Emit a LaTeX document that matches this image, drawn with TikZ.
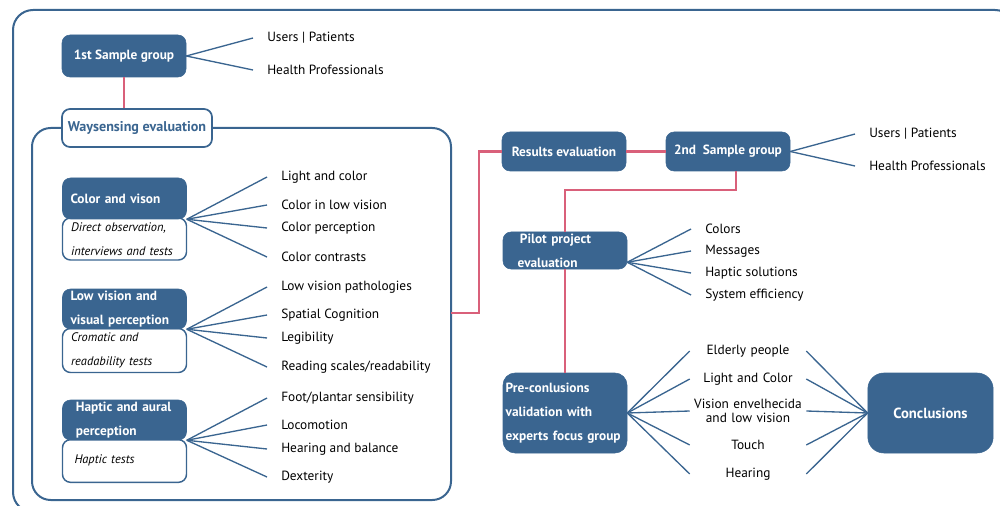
\documentclass[tikz,border=0pt]{standalone}
\usepackage{fontspec}
\setmainfont{PT Sans}
\usepackage{tikz}
\usetikzlibrary{calc}
\definecolor{wsblue}{HTML}{3A6590}
\definecolor{wspink}{HTML}{D9607A}
\tikzset{
    frame/.style={draw=wsblue,line width=1.5pt,rounded corners=15pt},
    darkbox/.style={fill=wsblue,draw=wsblue,rounded corners=6pt,text=white,inner sep=0pt,
        minimum width=93pt,font=\bfseries\fontsize{10}{18}\selectfont},
    lightbox/.style={fill=white,draw=wsblue,line width=1.1pt,rounded corners=6pt,inner sep=0pt,
        minimum width=93pt,font=\itshape\fontsize{9.3}{18}\selectfont},
    item/.style={anchor=west,inner sep=0pt,inner xsep=10.5pt,font=\fontsize{10}{11}\selectfont},
    midtext/.style={inner sep=0pt,text width=87pt,align=center,font=\fontsize{10}{10.5}\selectfont},
    spoke/.style={draw=wsblue,line width=1pt},
    link/.style={draw=wspink,line width=1.6pt}
}
\begin{document}
\begin{tikzpicture}[x=0.75pt,y=-0.75pt]
            \useasboundingbox (0,0) rectangle (1000,506);
            \clip (0,0) rectangle (1000,506);
            % Frames
            \draw[frame] (13,10) rectangle (1015,512);
            \draw[frame,rounded corners=14pt] (32,128) rectangle (451,500);
            \coordinate (frameout) at (451,313);
            % First sample
            \node[darkbox,minimum height=31.5pt,align=center] (sampleA) at (124,56) {1st Sample group};
            \node[item] (usersA) at (253,38) {Users | Patients};
            \node[item] (healthA) at (253,70) {Health Professionals};
            \draw[spoke] (sampleA.east) -- (usersA.west);
            \draw[spoke] (sampleA.east) -- (healthA.west);
            \node[lightbox,line width=1.3pt,minimum width=112.5pt,minimum height=28.5pt,text=wsblue,
                font=\bfseries\fontsize{10.6}{12}\selectfont] (waysensing) at (137,128) {Waysensing evaluation};
            \draw[link] (sampleA.south) -- (sampleA.south |- waysensing.north);
            % Color and vision
            \node[lightbox,minimum height=31.5pt,text width=80pt,align=left] (cvtests) at (124.5,239) {Direct observation,\\interviews and tests};
            \node[darkbox,minimum height=30.75pt,text width=81pt,align=left] (colorvision) at (124.5,198.5) {Color and vison};
            \node[item] (cv1) at (267,177) {Light and color};
            \node[item] (cv2) at (267,205) {Color in low vision};
            \node[item] (cv3) at (267,228) {Color perception};
            \node[item] (cv4) at (267,257) {Color contrasts};
            \foreach \n in {cv1,cv2,cv3,cv4}
                \draw[spoke] (colorvision.south east) -- (\n.west);
            % Low vision
            \node[lightbox,minimum height=33pt,text width=80pt,align=left] (lvtests) at (124.5,350.5) {Cromatic and\\readability tests};
            \node[darkbox,minimum height=30pt,text width=81pt,align=left] (lowvision) at (124.5,309) {Low vision and\\visual perception};
            \node[item] (lv1) at (267,287) {Low vision pathologies};
            \node[item] (lv2) at (267,315) {Spatial Cognition};
            \node[item] (lv3) at (267,338) {Legibility};
            \node[item] (lv4) at (267,367) {Reading scales/readability};
            \foreach \n in {lv1,lv2,lv3,lv4}
                \draw[spoke] (lowvision.south east) -- (\n.west);
            % Haptic and aural
            \node[lightbox,minimum height=32pt,text width=75pt,align=left] (hatests) at (124.5,461) {\raisebox{3pt}{Haptic tests}};
            \node[darkbox,minimum height=30pt,text width=73pt,align=left] (haptic) at (124.5,420) {Haptic and aural\\perception};
            \node[item] (ha1) at (267,398) {Foot/plantar sensibility};
            \node[item] (ha2) at (267,425) {Locomotion};
            \node[item] (ha3) at (267,449) {Hearing and balance};
            \node[item] (ha4) at (267,477) {Dexterity};
            \foreach \n in {ha1,ha2,ha3,ha4}
                \draw[spoke] (haptic.south east) -- (\n.west);
            % Results and second sample
            \node[darkbox,minimum height=29.25pt,align=center] (results) at (564,151.5) {Results evaluation};
            \node[darkbox,minimum height=29.25pt,align=center] (sampleB) at (728,151.5) {2nd~ Sample group};
            \node[item] (usersB) at (855,134) {Users | Patients};
            \node[item] (healthB) at (855,166) {Health Professionals};
            \draw[spoke] (sampleB.east) -- (usersB.west);
            \draw[spoke] (sampleB.east) -- (healthB.west);
            \draw[link] (frameout) -- ++(28,0) |- (results.west);
            \draw[link] (results) -- (sampleB);
            % Pilot project
            \node[darkbox,minimum height=27.75pt,text width=71pt,align=left] (pilot) at (565,250.5) {\,Pilot project\\evaluation};
            \node[item] (pp1) at (691,229) {Colors};
            \node[item] (pp2) at (691,251) {Messages};
            \node[item] (pp3) at (691,273) {Haptic solutions};
            \node[item] (pp4) at (691,295) {System efficiency};
            \foreach \n in {pp1,pp2,pp3,pp4}
                \draw[spoke] ($(pilot.south east)+(0,-7)$) -- (\n.west);
            \draw[link] ([xshift=6pt]sampleB.south) -- ++(0,19) -| (pilot.north);
            % Validation and conclusions
            \node[darkbox,minimum height=60pt,rounded corners=9pt,text width=89pt,align=left] (pre) at (565,413) {Pre-conlusions\\validation with\\experts focus group};
            \node[darkbox,minimum height=60pt,minimum width=94pt,rounded corners=12pt,
                font=\bfseries\fontsize{11}{12}\selectfont] (conc) at (930.5,413) {Conclusions};
            \draw[link] (pilot) -- (pre);
            \node[midtext] (ex1) at (748,351) {Elderly people};
            \node[midtext] (ex2) at (748,379) {Light and Color};
            \node[midtext] (ex3) at (748,411) {Vision envelhecida\\and low vision};
            \node[midtext] (ex4) at (748,445) {Touch};
            \node[midtext] (ex5) at (748,474) {Hearing};
            \foreach \n in {ex1,ex2,ex3,ex4,ex5}{
                \draw[spoke] (pre.east) -- (\n.west);
                \draw[spoke] (\n.east) -- (conc.west);
            }
\end{tikzpicture}
\end{document}
